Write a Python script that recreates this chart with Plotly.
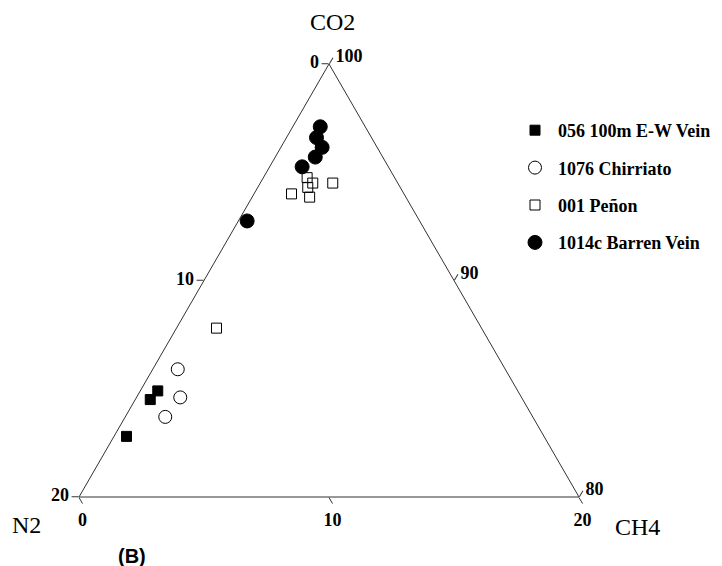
import plotly.graph_objects as go

# Gas composition (mol %) of fluid inclusions: CO2, N2, CH4
vein_056_co2 = [84.9, 84.5, 82.8]
vein_056_n2 = [14.4, 14.9, 16.7]
vein_056_ch4 = [0.7, 0.6, 0.5]

chirriato_co2 = [85.9, 84.6, 83.7]
chirriato_n2 = [13.1, 13.65, 14.7]
chirriato_ch4 = [1.0, 1.75, 1.6]

penon_co2 = [94.75, 94.5, 94.3, 93.85, 94.5, 94.0, 87.8]
penon_n2 = [3.5, 3.4, 3.7, 3.85, 2.6, 4.5, 10.6]
penon_ch4 = [1.75, 2.1, 2.0, 2.3, 2.9, 1.5, 1.6]

barren_co2 = [97.1, 96.6, 96.15, 95.7, 95.25, 92.75]
barren_n2 = [1.8, 2.2, 2.2, 2.7, 3.45, 6.9]
barren_ch4 = [1.1, 1.2, 1.65, 1.6, 1.3, 0.35]

series_names = ["056 100m E-W Vein", "1076 Chirriato", "001 Peñon", "1014c Barren Vein"]

# Tick values on each ternary axis and the labels printed at them
co2_ticks = [80, 90, 100]
co2_ticklabels = ["20", "10", "0"]
n2_ticks = [0, 10, 20]
n2_ticklabels = ["20", "10", "0"]
ch4_ticks = [0, 10, 20]
ch4_ticklabels = ["100", "90", "80"]

serif = "Liberation Serif, Times New Roman, DejaVu Serif, serif"
W, H = 722, 566

fig = go.Figure()

def add_series(name, a, b, c, symbol, size, group):
    fig.add_trace(go.Scatterternary(
        a=a, b=b, c=c, mode="markers", name=name, legendgroup=group,
        marker=dict(symbol=symbol, size=size, color="black",
                    line=dict(color="black", width=1)),
        cliponaxis=False,
    ))

add_series(series_names[0], vein_056_co2, vein_056_n2, vein_056_ch4, "square", 10, "g1")
add_series(series_names[1], chirriato_co2, chirriato_n2, chirriato_ch4, "circle-open", 13, "g2")
add_series(series_names[2], penon_co2, penon_n2, penon_ch4, "square-open", 10, "g3")
add_series(series_names[3], barren_co2, barren_n2, barren_ch4, "circle", 14, "g4")

axis_common = dict(
    showgrid=False, showline=True, linecolor="#333333", linewidth=1,
    ticks="outside", ticklen=7, tickwidth=1, tickcolor="#333333",
    tickmode="array", title=dict(text=""),
    tickfont=dict(family=serif, size=18, color="black", weight="bold"),
)

# triangle placement in pixels
xL, xR, yB = 79, 579, 497
tri_h = (xR - xL) * 3 ** 0.5 / 2

fig.update_layout(
    width=W, height=H,
    margin=dict(l=0, r=0, t=0, b=0),
    paper_bgcolor="white", plot_bgcolor="white",
    ternary=dict(
        sum=100,
        bgcolor="white",
        domain=dict(x=[xL / W, xR / W], y=[(H - yB) / H, (H - yB + tri_h) / H]),
        aaxis=dict(min=80, tickvals=co2_ticks, ticktext=co2_ticklabels, **axis_common),
        baxis=dict(min=0, tickvals=n2_ticks, ticktext=n2_ticklabels, **axis_common),
        caxis=dict(min=0, tickvals=ch4_ticks, ticktext=ch4_ticklabels, **axis_common),
    ),
    showlegend=True,
    legend=dict(
        x=512 / W, y=1 - 112 / H, xanchor="left", yanchor="top",
        font=dict(family=serif, size=18, color="black", weight="bold"),
        tracegroupgap=11, bgcolor="rgba(0,0,0,0)", itemsizing="trace",
        itemwidth=36,
    ),
    font=dict(family=serif, color="black"),
)

def label(text, x, y, size, family=serif, bold=False):
    fig.add_annotation(
        text=text, x=x / W, y=1 - y / H, xref="paper", yref="paper",
        showarrow=False, xanchor="center", yanchor="middle",
        font=dict(family=family, size=size, color="black",
                  weight="bold" if bold else "normal"),
    )

label("CO2", 332, 22, 24)
label("N2", 27, 525, 24)
label("CH4", 637, 527, 24)
label("(B)", 132, 556, 20, family="Liberation Sans, Arial, sans-serif", bold=True)

fig.write_html("out.html")
